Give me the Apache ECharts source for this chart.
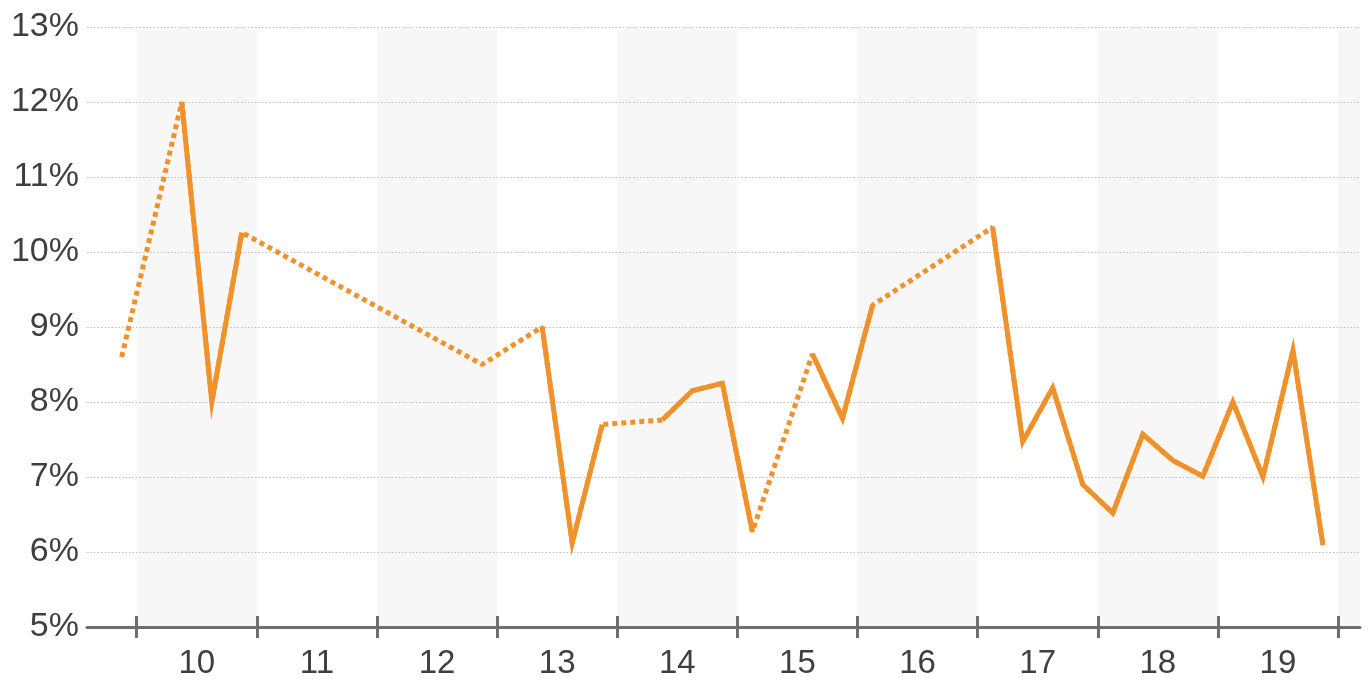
<!DOCTYPE html>
<html>
<head>
<meta charset="utf-8">
<script src="https://cdn.jsdelivr.net/npm/echarts@6/dist/echarts.min.js"></script>
<style>
  html, body { margin: 0; padding: 0; background: #ffffff; }
  #chart { width: 1369px; height: 680px; }
</style>
</head>
<body>
<div id="chart"></div>
<script>
// Quarters (year + quarter), values in percent (null = no data; gaps drawn dotted)
var quarters = [
  '2009Q4',
  '2010Q1','2010Q2','2010Q3','2010Q4',
  '2011Q1','2011Q2','2011Q3','2011Q4',
  '2012Q1','2012Q2','2012Q3','2012Q4',
  '2013Q1','2013Q2','2013Q3','2013Q4',
  '2014Q1','2014Q2','2014Q3','2014Q4',
  '2015Q1','2015Q2','2015Q3','2015Q4',
  '2016Q1','2016Q2','2016Q3','2016Q4',
  '2017Q1','2017Q2','2017Q3','2017Q4',
  '2018Q1','2018Q2','2018Q3','2018Q4',
  '2019Q1','2019Q2','2019Q3','2019Q4'
];
var values = [
  8.6,
  null, 12.0, 8.0, 10.26,
  null, null, null, null,
  null, null, null, 8.5,
  null, 9.0, 6.12, 7.7,
  null, 7.76, 8.15, 8.25,
  6.27, null, 8.64, 7.78,
  9.29, null, null, null,
  10.33, 7.47, 8.19, 6.9,
  6.52, 7.57, 7.22, 7.01,
  8.0, 7.0, 8.69, 6.09
];
var yearTicks = [2010, 2011, 2012, 2013, 2014, 2015, 2016, 2017, 2018, 2019, 2020];
var yearLabels = ['10', '11', '12', '13', '14', '15', '16', '17', '18', '19'];
var bandYears = [2010, 2012, 2014, 2016, 2018, 2020];
var yTicks = [5, 6, 7, 8, 9, 10, 11, 12, 13];

var X_MIN = 2009.586, X_MAX = 2020.183;
var LINE_COLOR = '#F0922C';
var TEXT_COLOR = '#3f3f3f';
var AXIS_COLOR = '#6e6e6e';
var FONT = '"Liberation Sans", Arial, sans-serif';

function qPos(q) {
  var y = parseInt(q.slice(0, 4), 10);
  var n = parseInt(q.slice(5), 10);
  return y + (n - 0.5) / 4;
}
var pts = quarters.map(function (q, i) { return [qPos(q), values[i]]; });

var labelPos = yearLabels.map(function (l, i) { return yearTicks[i] + 0.5; });
var labelMap = {};
labelPos.forEach(function (p, i) { labelMap[p.toFixed(1)] = yearLabels[i]; });

var bands = bandYears.map(function (y) {
  return [{ xAxis: y, yAxis: 12.97 }, { xAxis: Math.min(y + 1, X_MAX), yAxis: 5 }];
});

var chart = echarts.init(document.getElementById('chart'), null, { renderer: 'canvas' });
chart.setOption({
  animation: false,
  backgroundColor: '#ffffff',
  grid: { left: 87, right: 9, top: 27, bottom: 53, containLabel: false },
  xAxis: [{
    type: 'value', min: X_MIN, max: X_MAX, z: 2,
    axisLine: { show: true, lineStyle: { color: AXIS_COLOR, width: 3 } },
    axisTick: { show: true, customValues: yearTicks, length: 11, lineStyle: { color: AXIS_COLOR, width: 3 } },
    axisLabel: {
      show: true, customValues: labelPos, margin: 20,
      color: TEXT_COLOR, fontSize: 33, fontFamily: FONT,
      formatter: function (v) { return labelMap[Number(v).toFixed(1)] || ''; }
    },
    splitLine: { show: false }
  }, {
    type: 'value', min: X_MIN, max: X_MAX, position: 'bottom', z: 2,
    axisLine: { show: false },
    axisTick: { show: true, inside: true, customValues: yearTicks, length: 11, lineStyle: { color: AXIS_COLOR, width: 3 } },
    axisLabel: { show: false },
    splitLine: { show: false }
  }],
  yAxis: {
    type: 'value', min: 5, max: 13, interval: 1, z: 2,
    axisLine: { show: false },
    axisTick: { show: false },
    axisLabel: {
      color: TEXT_COLOR, fontSize: 34, fontFamily: FONT, margin: 8,
      formatter: '{value}%'
    },
    splitLine: { show: true, lineStyle: { color: '#bcbcbc', width: 1, type: [1.5, 2] } }
  },
  series: [{
    name: 'bands', type: 'line', data: [], z: 1, silent: true,
    markArea: { silent: true, itemStyle: { color: '#f7f7f7' }, data: bands }
  }, {
    name: 'gaps', type: 'line', data: pts, z: 3, connectNulls: true,
    showSymbol: false, symbol: 'none',
    lineStyle: { color: LINE_COLOR, width: 5, type: [5, 4], cap: 'butt' }
  }, {
    name: 'values', type: 'line', data: pts, z: 4, connectNulls: false,
    showSymbol: false, symbol: 'none',
    lineStyle: { color: LINE_COLOR, width: 5, type: 'solid', join: 'miter' }
  }]
});
</script>
</body>
</html>
